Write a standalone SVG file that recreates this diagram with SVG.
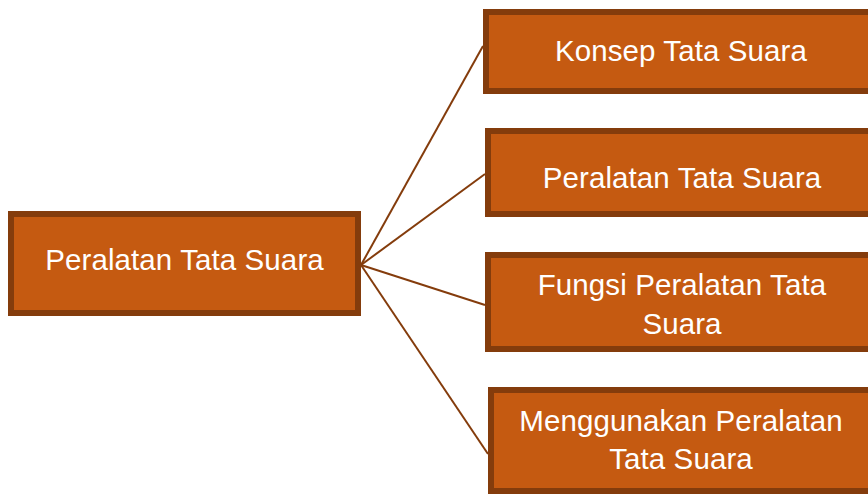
<svg xmlns="http://www.w3.org/2000/svg" width="868" height="494" viewBox="0 0 868 494">
<style>
.box{fill:#C55A11;stroke:#843C0C;stroke-width:6}
.lbl{font-family:"Liberation Sans",Arial,sans-serif;font-size:29.5px;letter-spacing:0.1px;fill:#FFFFFF;text-anchor:middle}
.con{stroke:#843C0C;stroke-width:2;fill:none}
</style>
<rect width="868" height="494" fill="#FFFFFF"/>
<g id="connectors">
<line class="con" x1="361" y1="265" x2="483" y2="46"/>
<line class="con" x1="361" y1="265" x2="485" y2="174"/>
<line class="con" x1="361" y1="265" x2="485" y2="305"/>
<line class="con" x1="361" y1="265" x2="488" y2="454"/>
</g>
<g id="root">
<rect class="box" x="11" y="214" width="347" height="99"/>
<text class="lbl" x="184.5" y="270">Peralatan Tata Suara</text>
</g>
<g id="n1">
<rect class="box" x="486" y="12" width="389" height="79"/>
<text class="lbl" x="681" y="61">Konsep Tata Suara</text>
</g>
<g id="n2">
<rect class="box" x="488" y="131" width="389" height="83"/>
<text class="lbl" x="682" y="188">Peralatan Tata Suara</text>
</g>
<g id="n3">
<rect class="box" x="488" y="255" width="389" height="94"/>
<text class="lbl" x="682" y="295">Fungsi Peralatan Tata</text>
<text class="lbl" x="682" y="334">Suara</text>
</g>
<g id="n4">
<rect class="box" x="491" y="390" width="386" height="101"/>
<text class="lbl" x="681" y="431">Menggunakan Peralatan</text>
<text class="lbl" x="681" y="469">Tata Suara</text>
</g>
</svg>
